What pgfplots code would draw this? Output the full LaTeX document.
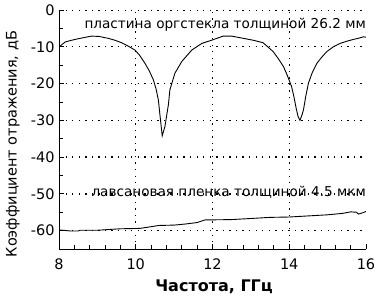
\documentclass[border=0pt]{standalone}
\usepackage{pgfplots}
\pgfplotsset{compat=1.18}
\usepackage{fontspec}
\setmainfont{DejaVu Sans}
\begin{document}
\begin{tikzpicture}
\path[use as bounding box] (-59bp,-51bp) rectangle (319bp,249bp);
\begin{axis}[
  anchor=south west, at={(0,0)},
  scale only axis, width=307bp, height=239bp,
  xmin=8, xmax=16, ymin=-65, ymax=0,
  axis x line*=bottom, axis y line*=left,
  xtick={8,10,12,14,16}, ytick={0,-10,-20,-30,-40,-50,-60},
  minor x tick num=4, minor y tick num=1,
  tick align=inside,
  major tick length=5bp, minor tick length=4bp,
  axis line style={line width=0.8bp},
  tick style={black, line width=0.8bp},
  tick label style={font=\fontsize{14.5bp}{17bp}\selectfont},
  /pgf/number format/assume math mode=true,
  xticklabel style={yshift=-6bp},
  yticklabel style={xshift=-1bp},
  xlabel={Частота, ГГц},
  ylabel={Коэффициент отражения, дБ},
  every axis x label/.style={at={(axis description cs:0.505,-0.159)}, anchor=center, font=\fontsize{16bp}{19bp}\selectfont\bfseries},
  every axis y label/.style={at={(axis description cs:-0.150,0.439)}, anchor=center, rotate=90, font=\fontsize{14.5bp}{17bp}\selectfont},
  gridline/.style={black, line width=1.35bp, dash pattern=on 1.35bp off 5.2bp, forget plot},
]
\addplot[gridline] coordinates {(10,-65)(10,0)};
\addplot[gridline] coordinates {(12,-65)(12,0)};
\addplot[gridline] coordinates {(14,-65)(14,0)};
\addplot[gridline] coordinates {(8,0)(16,0)};
\addplot[gridline] coordinates {(8,-10)(16,-10)};
\addplot[gridline] coordinates {(8,-20)(16,-20)};
\addplot[gridline] coordinates {(8,-30)(16,-30)};
\addplot[gridline] coordinates {(8,-40)(16,-40)};
\addplot[gridline] coordinates {(8,-50)(16,-50)};
\addplot[gridline] coordinates {(8,-60)(16,-60)};
\addplot[black, line width=0.9bp] coordinates {
(8.0,-10.1)(8.1,-9.2)(8.16,-8.7)(8.3,-8.3)(8.42,-8.0)(8.6,-7.6)(8.85,-7.1)(9.05,-7.2)
(9.28,-7.7)(9.45,-8.2)(9.63,-8.9)(9.8,-9.8)(9.98,-10.9)(10.1,-12.3)(10.24,-14.5)
(10.35,-16.5)(10.46,-19.0)(10.53,-21.5)(10.59,-24.5)(10.63,-28.5)(10.69,-34.2)
(10.76,-31.7)(10.85,-25.8)(10.89,-21.7)(11.02,-17.2)(11.2,-14.0)(11.46,-10.9)
(11.72,-9.1)(11.98,-8.2)(12.28,-7.1)(12.5,-7.1)(12.8,-7.7)(13.05,-8.2)(13.32,-8.9)
(13.58,-11.3)(13.72,-13.3)(13.85,-15.4)(13.95,-17.8)(14.06,-20.8)(14.12,-23.5)
(14.18,-26.7)(14.23,-29.0)(14.28,-30.0)(14.33,-28.6)(14.37,-27.2)(14.43,-23.5)
(14.50,-19.9)(14.6,-17.0)(14.72,-14.5)(14.85,-12.8)(14.98,-11.3)(15.15,-10.0)
(15.32,-9.1)(15.5,-8.5)(15.67,-8.0)(15.8,-7.7)(15.93,-7.3)(16.0,-7.4)
};
\addplot[black, line width=0.9bp] coordinates {
(8.0,-59.8)(8.3,-60.1)(8.5,-60.1)(8.55,-59.9)(9.0,-59.9)(9.3,-59.7)(9.6,-59.5)
(10.1,-59.4)(10.3,-59.1)(10.6,-58.6)(11.0,-58.5)(11.3,-58.2)(11.6,-57.8)(11.8,-57.1)
(12.5,-57.0)(13.0,-56.7)(13.5,-56.4)(14.0,-56.3)(14.5,-56.0)(15.0,-55.7)(15.4,-55.3)
(15.6,-54.9)(15.75,-55.0)(15.8,-55.5)(15.9,-55.2)(16.0,-54.8)
};
\node[anchor=base east, inner sep=0pt, font=\fontsize{13.6bp}{16bp}\selectfont] at (axis cs:16,-4.9) {пластина оргстекла толщиной 26.2 мм};
\node[anchor=base east, inner sep=0pt, font=\fontsize{13.6bp}{16bp}\selectfont] at (axis cs:16,-50.7) {лавсановая пленка толщиной 4.5 мкм};
\end{axis}
\end{tikzpicture}
\end{document}
